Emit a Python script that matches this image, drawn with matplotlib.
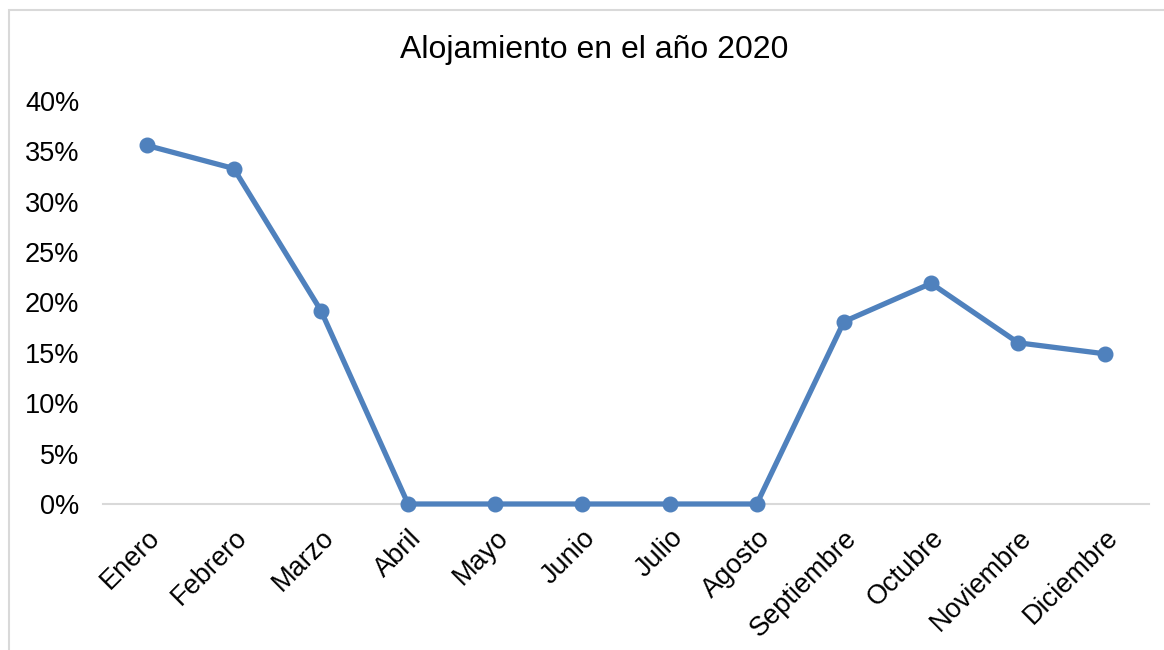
import matplotlib as mpl
mpl.use('Agg')
import matplotlib.pyplot as plt
from matplotlib.patches import Rectangle
from matplotlib.ticker import FuncFormatter
from matplotlib.transforms import ScaledTranslation

plt.rcParams['font.family'] = ['Liberation Sans', 'DejaVu Sans']

meses = ['Enero', 'Febrero', 'Marzo', 'Abril', 'Mayo', 'Junio', 'Julio',
         'Agosto', 'Septiembre', 'Octubre', 'Noviembre', 'Diciembre']
ocupacion = [0.356, 0.333, 0.192, 0.0, 0.0, 0.0, 0.0, 0.0, 0.181, 0.219, 0.160, 0.149]

fig = plt.figure(figsize=(11.64, 6.5), dpi=100)

# chart frame (cut off at right and bottom)
fig.patches.append(Rectangle((9 / 1164, -0.1), 1.2, 1.1 - 10 / 650,
                             transform=fig.transFigure, fill=False,
                             edgecolor='#d9d9d9', linewidth=1.5))

ax = fig.add_axes([103 / 1164, 146 / 650, 1046 / 1164, 403 / 650])
x = range(len(meses))
ax.plot(x, ocupacion, color='#4f81bd', linewidth=3.8, marker='o',
        markersize=10.5, solid_capstyle='round', zorder=3, clip_on=False)

ax.set_xlim(-0.5, len(meses) - 0.5)
ax.set_ylim(0, 0.4)
ax.set_yticks([i * 0.05 for i in range(9)])
ax.yaxis.set_major_formatter(FuncFormatter(lambda v, p: '{:.0f}%'.format(v * 100)))
ax.set_xticks(list(x))
ax.set_xticklabels(meses, rotation=45, ha='right', rotation_mode='anchor')

# nudge the slanted month labels a little to the left
shift = ScaledTranslation(-5 / 100, 0, fig.dpi_scale_trans)
for lbl in ax.get_xticklabels():
    lbl.set_transform(lbl.get_transform() + shift)

for s in ['top', 'right', 'left']:
    ax.spines[s].set_visible(False)
ax.spines['bottom'].set_color('#d9d9d9')
ax.spines['bottom'].set_linewidth(1.5)
ax.spines['bottom'].set_zorder(1)
ax.tick_params(axis='both', length=0, labelsize=19.5, colors='black')
ax.tick_params(axis='y', pad=17)
ax.tick_params(axis='x', pad=15)

fig.text(594 / 1164, 1 - 50 / 650, 'Alojamiento en el año 2020', ha='center',
         va='center', fontsize=23)

plt.savefig('out.png', dpi=100)
plt.close()
